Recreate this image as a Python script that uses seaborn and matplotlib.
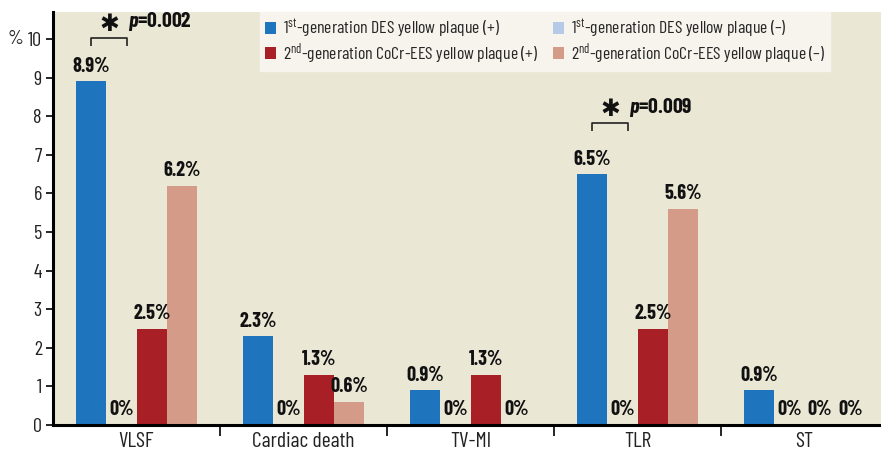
import matplotlib
matplotlib.use("Agg")
import matplotlib.pyplot as plt
import numpy as np
import pandas as pd
import seaborn as sns

# ---- data ----
outcomes = ["VLSF", "Cardiac death", "TV-MI", "TLR", "ST"]
groups = [
    "1$^{\\mathrm{st}}$-generation DES yellow plaque (+)",
    "1$^{\\mathrm{st}}$-generation DES yellow plaque (\u2013)",
    "2$^{\\mathrm{nd}}$-generation CoCr-EES yellow plaque (+)",
    "2$^{\\mathrm{nd}}$-generation CoCr-EES yellow plaque (\u2013)",
]
des_pos = [8.9, 2.3, 0.9, 6.5, 0.9]
des_neg = [0.0, 0.0, 0.0, 0.0, 0.0]
ees_pos = [2.5, 1.3, 1.3, 2.5, 0.0]
ees_neg = [6.2, 0.6, 0.0, 5.6, 0.0]
palette = ["#1F75BD", "#B7C9E8", "#A81F25", "#D49B88"]
yticks = list(range(0, 11))
# significance: (outcome index, p-value text, bracket height)
sig_marks = [(0, "=0.002", 10.03), (3, "=0.009", 7.82)]

FONT = ["Barlow Condensed", "Roboto Condensed", "DejaVu Sans"]
BG = "#EBE7D5"
LEGEND_BG = "#F6F4EC"

rows = []
for vals, grp in zip([des_pos, des_neg, ees_pos, ees_neg], groups):
    for outcome, v in zip(outcomes, vals):
        rows.append({"outcome": outcome, "group": grp, "rate": v})
df = pd.DataFrame(rows)

sns.set_theme(style="white")
plt.rcParams["font.family"] = FONT
plt.rcParams["mathtext.fontset"] = "custom"
plt.rcParams["mathtext.rm"] = "Barlow Condensed"
plt.rcParams["mathtext.it"] = "Barlow Condensed:italic:bold"

W, H = 881, 450
fig = plt.figure(figsize=(W / 100, H / 100), dpi=100)
ax = fig.add_axes([53 / W, 25 / H, (888 - 53) / W, (425 - 12) / H])
ax.set_facecolor(BG)

sns.barplot(
    data=df, x="outcome", y="rate", hue="group", hue_order=groups,
    palette=palette, width=0.73, saturation=1, ax=ax, order=outcomes,
    linewidth=0, edgecolor="none",
)

ax.set_ylim(0, 413 / 38.6)
ax.set_xlim(-0.5, 4.5)
ax.set_yticks(yticks)
ax.set_yticklabels([str(t) for t in yticks], fontsize=14.5, color="#222222")
ax.set_xlabel("")
ax.set_ylabel("")
fig.text(15 / W, 1 - 39 / H, "%", ha="center", va="center", fontsize=14.5,
         color="#222222")

# x axis: labels centred, separator ticks at the category boundaries
ax.set_xticks(range(len(outcomes)))
ax.set_xticklabels(outcomes, fontsize=15.5, color="#222222")
ax.set_xticks(np.arange(len(outcomes)) + 0.5, minor=True)
ax.tick_params(axis="x", which="major", length=0, pad=5)
ax.tick_params(axis="x", which="minor", length=8, width=1.2, color="black",
               direction="out", bottom=True)
ax.tick_params(axis="y", length=5, width=1.2, color="black", direction="out",
               left=True, pad=3)

for side in ["top", "right"]:
    ax.spines[side].set_visible(False)
for side in ["left", "bottom"]:
    ax.spines[side].set_linewidth(2.2)
    ax.spines[side].set_color("black")

# value labels
for cont in ax.containers:
    labels = [f"{b.get_height():g}%" for b in cont]
    ax.bar_label(cont, labels=labels, padding=4, fontsize=14.5,
                 fontweight="bold", color="#111111")

# significance brackets
for idx, ptxt, yb in sig_marks:
    b1 = ax.containers[0][idx]
    b2 = ax.containers[1][idx]
    x1 = b1.get_x() + b1.get_width() / 2
    x2 = b2.get_x() + b2.get_width() / 2 + 0.035
    ax.plot([x1, x1, x2, x2], [yb - 0.2, yb, yb, yb - 0.2], color="#222222",
            lw=1.2, solid_capstyle="butt")
    xm = (x1 + x2) / 2
    ax.text(xm, yb + 0.05, "\u2731", ha="center", va="bottom", fontsize=17,
            color="#111111", family="DejaVu Sans")
    ax.text(x2 + 0.005, yb + 0.12, "$p$" + ptxt, ha="left",
            va="bottom", fontsize=15.5, fontweight="bold", color="#111111")

# legend
handles, labels = ax.get_legend_handles_labels()
order = [0, 2, 1, 3]
leg = ax.legend(
    [handles[i] for i in order], [labels[i] for i in order], ncol=2,
    loc="upper left", bbox_to_anchor=(207 / 835, 1.0), frameon=True,
    fontsize=12.8, handlelength=0.62, handleheight=0.72, handletextpad=0.35,
    columnspacing=0.85, labelspacing=0.05, borderpad=0.3, borderaxespad=0,
)
leg.get_frame().set_facecolor(LEGEND_BG)
leg.get_frame().set_edgecolor(LEGEND_BG)
leg.get_frame().set_alpha(1)
leg.get_frame().set_boxstyle("square", pad=0)

fig.savefig("out.png", dpi=100, facecolor="white")
